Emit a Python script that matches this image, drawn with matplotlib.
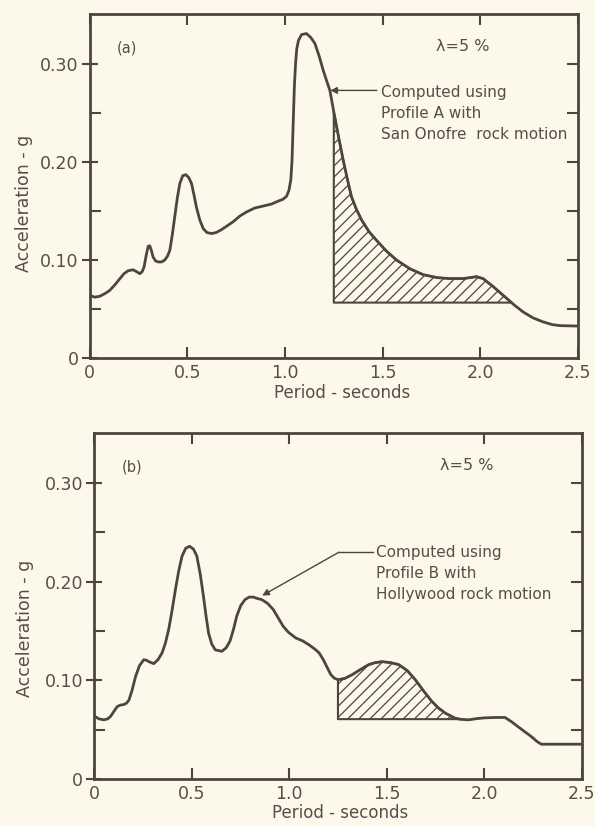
import matplotlib.pyplot as plt

# panel (a) - Profile A, San Onofre rock motion
period_a = [0.000, 0.025, 0.051, 0.080, 0.102, 0.130, 0.154, 0.175, 0.196,
            0.222, 0.240, 0.256, 0.268, 0.278, 0.288, 0.299, 0.307, 0.315,
            0.324, 0.337, 0.350, 0.368, 0.384, 0.398, 0.410, 0.422, 0.435,
            0.448, 0.461, 0.476, 0.492, 0.507, 0.521, 0.533, 0.546, 0.563,
            0.581, 0.600, 0.623, 0.648, 0.675, 0.705, 0.734, 0.770, 0.803,
            0.845, 0.888, 0.930, 0.965, 0.990, 1.008, 1.020, 1.030, 1.036,
            1.042, 1.048, 1.054, 1.060, 1.069, 1.085, 1.110, 1.132, 1.153,
            1.175, 1.195, 1.213, 1.230, 1.250, 1.275, 1.298, 1.320, 1.340,
            1.365, 1.392, 1.430, 1.469, 1.520, 1.571, 1.640, 1.708, 1.780,
            1.844, 1.910, 1.950, 1.981, 2.015, 2.040, 2.066, 2.100, 2.135,
            2.175, 2.220, 2.270, 2.320, 2.370, 2.410, 2.500]
accel_a = [0.064, 0.062, 0.063, 0.066, 0.069, 0.075, 0.081, 0.086, 0.089,
           0.090, 0.088, 0.086, 0.088, 0.093, 0.104, 0.114, 0.1145, 0.110,
           0.103, 0.099, 0.098, 0.098, 0.100, 0.104, 0.110, 0.125, 0.144,
           0.163, 0.178, 0.186, 0.187, 0.184, 0.178, 0.167, 0.154, 0.141,
           0.132, 0.128, 0.127, 0.128, 0.131, 0.135, 0.139, 0.145, 0.149,
           0.153, 0.155, 0.157, 0.160, 0.162, 0.165, 0.171, 0.182, 0.202,
           0.240, 0.277, 0.300, 0.315, 0.324, 0.330, 0.331, 0.327, 0.321,
           0.308, 0.294, 0.283, 0.273, 0.251, 0.225, 0.202, 0.182, 0.165,
           0.152, 0.141, 0.129, 0.120, 0.109, 0.100, 0.091, 0.085, 0.082,
           0.081, 0.081, 0.082, 0.083, 0.081, 0.077, 0.073, 0.067, 0.061,
           0.054, 0.047, 0.041, 0.037, 0.034, 0.033, 0.0326]

# panel (b) - Profile B, Hollywood rock motion
period_b = [0.000, 0.025, 0.051, 0.070, 0.085, 0.100, 0.119, 0.136, 0.153,
            0.167, 0.179, 0.195, 0.213, 0.233, 0.255, 0.268, 0.281, 0.306,
            0.328, 0.349, 0.366, 0.383, 0.400, 0.417, 0.434, 0.451, 0.470,
            0.490, 0.510, 0.527, 0.545, 0.561, 0.575, 0.587, 0.603, 0.621,
            0.655, 0.677, 0.697, 0.715, 0.731, 0.752, 0.774, 0.795, 0.816,
            0.838, 0.859, 0.890, 0.918, 0.945, 0.969, 0.995, 1.034, 1.070,
            1.102, 1.130, 1.153, 1.175, 1.196, 1.213, 1.230, 1.250, 1.285,
            1.323, 1.365, 1.408, 1.440, 1.476, 1.520, 1.561, 1.605, 1.646,
            1.690, 1.731, 1.765, 1.800, 1.850, 1.880, 1.918, 1.960, 2.000,
            2.060, 2.106, 2.140, 2.173, 2.207, 2.241, 2.270, 2.292, 2.400,
            2.500]
accel_b = [0.064, 0.061, 0.060, 0.061, 0.0635, 0.068, 0.0735, 0.075, 0.0755,
           0.077, 0.080, 0.090, 0.104, 0.115, 0.121, 0.1205, 0.119, 0.117,
           0.121, 0.128, 0.138, 0.152, 0.171, 0.192, 0.211, 0.226, 0.234,
           0.236, 0.233, 0.226, 0.207, 0.185, 0.164, 0.148, 0.137, 0.131,
           0.1295, 0.133, 0.140, 0.152, 0.165, 0.176, 0.182, 0.1845, 0.1845,
           0.183, 0.182, 0.178, 0.172, 0.163, 0.155, 0.149, 0.143, 0.140,
           0.136, 0.132, 0.128, 0.121, 0.1126, 0.106, 0.1024, 0.1007, 0.102,
           0.1058, 0.111, 0.116, 0.118, 0.119, 0.118, 0.116, 0.110, 0.1007,
           0.089, 0.0787, 0.072, 0.0668, 0.0617, 0.0605, 0.0600, 0.0612,
           0.0620, 0.0624, 0.0624, 0.058, 0.053, 0.048, 0.043, 0.038, 0.0353,
           0.0353, 0.0353]

xticks = [0, 0.5, 1.0, 1.5, 2.0, 2.5]
xlabels = ['0', '0.5', '1.0', '1.5', '2.0', '2.5']
yticks = [0, 0.10, 0.20, 0.30]
ylabels = ['0', '0.10', '0.20', '0.30']

bg = '#fcf9ea'
ink = '#4d4540'
txt = '#574e47'

plt.rcParams['font.family'] = ['DejaVu Sans']
plt.rcParams['hatch.linewidth'] = 0.9
plt.rcParams['hatch.color'] = ink

fig = plt.figure(figsize=(5.95, 8.26), dpi=100, facecolor=bg)


def panel(ax, x, y, tag, hatch_from, hatch_to, base, note, text_xy,
          arrow_xy, arrow_from, bend, ylab_xy, xlab_xy):
    ax.set_facecolor(bg)
    ax.plot(x, y, color=ink, lw=2.0, solid_capstyle='round',
            solid_joinstyle='round')
    # shaded area between the curve and the base line
    xs = [v for v in x if hatch_from <= v <= hatch_to]
    ys = [y[i] for i, v in enumerate(x) if hatch_from <= v <= hatch_to]
    ax.fill_between(xs, base, ys, where=[v >= base for v in ys],
                    interpolate=True, facecolor='none', edgecolor=ink,
                    hatch='///', lw=1.5)
    ax.set_xlim(0, 2.5)
    ax.set_ylim(0, 0.351)
    ax.set_xticks(xticks)
    ax.set_xticklabels(xlabels)
    ax.set_yticks(yticks)
    ax.set_yticklabels(ylabels)
    ax.set_yticks([0.05, 0.15, 0.25], minor=True)
    ax.tick_params(axis='y', which='major', direction='inout', length=12,
                   width=1.5, colors=ink, labelcolor=txt, labelsize=12.5, pad=2)
    ax.tick_params(axis='y', which='minor', direction='in', length=8,
                   width=1.5, colors=ink)
    ax.tick_params(axis='x', direction='in', length=8, width=1.5, colors=ink,
                   labelcolor=txt, labelsize=12.5, pad=4, top=True)
    # right-side ticks every 0.05
    sec = ax.secondary_yaxis('right')
    sec.set_yticks([0.05, 0.10, 0.15, 0.20, 0.25, 0.30])
    sec.tick_params(direction='in', length=8, width=1.5, colors=ink,
                    labelright=False)
    sec.spines['right'].set_visible(False)
    for s in ax.spines.values():
        s.set_color(ink)
        s.set_linewidth(2.0)
    ax.set_xlabel('Period - seconds', fontsize=12, color=txt)
    ax.set_ylabel('Acceleration - g', fontsize=12.5, color=txt)
    ax.xaxis.set_label_coords(*xlab_xy)
    ax.yaxis.set_label_coords(*ylab_xy)
    ax.text(0.14, 0.316, tag, fontsize=10.5, color=txt, va='center')
    ax.text(1.91, 0.318, '\u03bb=5 %', fontsize=11.5, color=txt,
            ha='center', va='center')
    if bend is not None:
        ax.plot([bend[0], arrow_from[0]], [bend[1], arrow_from[1]],
                color=ink, lw=1.0)
        start = bend
    else:
        start = arrow_from
    ax.annotate('', xy=arrow_xy, xytext=start,
                arrowprops=dict(arrowstyle='-|>', color=ink, lw=1.0,
                                mutation_scale=10, shrinkA=0, shrinkB=0))
    ax.text(text_xy[0], text_xy[1], note, fontsize=11,
            color=txt, va='top', ha='left', linespacing=1.5)


ax1 = fig.add_axes([0.151, 0.5666, 0.820, 0.4165])
panel(ax1, period_a, accel_a, '(a)', 1.25, 2.3, 0.0565,
      'Computed using\nProfile A with\nSan Onofre  rock motion',
      (1.49, 0.279), (1.232, 0.273), (1.47, 0.273), None,
      (-0.117, 0.45), (0.518, -0.075))

ax2 = fig.add_axes([0.158, 0.0569, 0.820, 0.419])
panel(ax2, period_b, accel_b, '(b)', 1.25, 1.9, 0.0607,
      'Computed using\nProfile B with\nHollywood rock motion',
      (1.445, 0.237), (0.862, 0.186), (1.43, 0.230), (1.255, 0.230),
      (-0.122, 0.436), (0.505, -0.072))

fig.savefig('out.png', dpi=100, facecolor=bg)
